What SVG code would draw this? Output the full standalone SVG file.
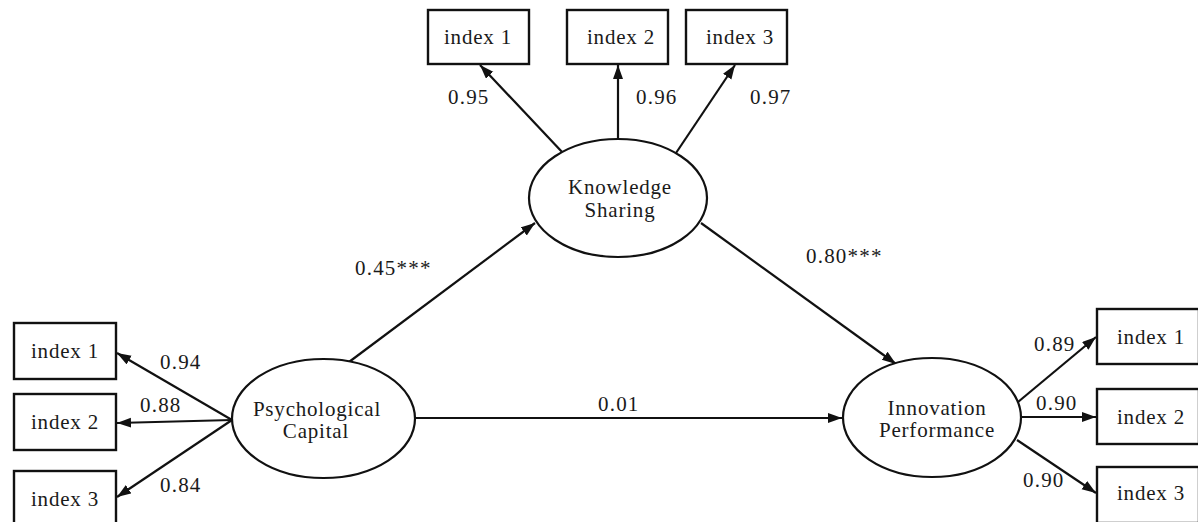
<svg xmlns="http://www.w3.org/2000/svg" width="1198" height="522" viewBox="0 0 1198 522">
<style>
.box{fill:#fff;stroke:#111;stroke-width:2.4}
.ell{fill:#fff;stroke:#111;stroke-width:2.2}
.t{font-family:"Liberation Serif","Times New Roman",serif;font-size:21px;letter-spacing:0.8px;fill:#1a1a1a;text-anchor:middle}
.n{font-family:"Liberation Serif","Times New Roman",serif;font-size:21px;letter-spacing:1.2px;fill:#1a1a1a}
.c{stroke:#111;stroke-width:2.2;fill:none;marker-end:url(#ah)}
</style>
<defs>
<marker id="ah" markerUnits="userSpaceOnUse" markerWidth="15" markerHeight="11" refX="14" refY="5" orient="auto">
<path d="M0,0 L14,5 L0,10 z" fill="#111"/>
</marker>
</defs>
<rect width="1198" height="522" fill="#fff"/>
<g id="connectors">
<line class="c" x1="232" y1="420" x2="117" y2="353"/>
<line class="c" x1="232" y1="420" x2="117" y2="423"/>
<line class="c" x1="232" y1="420" x2="117" y2="497"/>
<line class="c" x1="563" y1="153" x2="480" y2="65"/>
<line class="c" x1="618" y1="139" x2="618" y2="65"/>
<line class="c" x1="676" y1="153" x2="735" y2="65"/>
<line class="c" x1="349" y1="362" x2="535" y2="223"/>
<line class="c" x1="701" y1="223" x2="896" y2="364"/>
<line class="c" x1="415" y1="418" x2="842" y2="418"/>
<line class="c" x1="1018" y1="402" x2="1096" y2="337"/>
<line class="c" x1="1021" y1="417" x2="1096" y2="417"/>
<line class="c" x1="1017" y1="440" x2="1096" y2="493"/>
<text class="n" x="160" y="369">0.94</text>
<text class="n" x="140" y="412">0.88</text>
<text class="n" x="160" y="492">0.84</text>
<text class="n" x="448" y="104">0.95</text>
<text class="n" x="636" y="104">0.96</text>
<text class="n" x="750" y="104">0.97</text>
<text class="n" x="355" y="275">0.45***</text>
<text class="n" x="806" y="263">0.80***</text>
<text class="n" x="598" y="411">0.01</text>
<text class="n" x="1034" y="351">0.89</text>
<text class="n" x="1036" y="410">0.90</text>
<text class="n" x="1023" y="487">0.90</text>
</g>
<g id="ls1"><rect class="box" x="14" y="323" width="102" height="56"/><text class="t" x="65" y="358">index 1</text></g>
<g id="ls2"><rect class="box" x="14" y="394" width="102" height="56"/><text class="t" x="65" y="429">index 2</text></g>
<g id="ls3"><rect class="box" x="14" y="471" width="102" height="56"/><text class="t" x="65" y="506">index 3</text></g>
<g id="ks1"><rect class="box" x="428" y="10" width="101" height="54"/><text class="t" x="478" y="44">index 1</text></g>
<g id="ks2"><rect class="box" x="567" y="10" width="101" height="54"/><text class="t" x="621" y="44">index 2</text></g>
<g id="ks3"><rect class="box" x="686" y="10" width="101" height="54"/><text class="t" x="740" y="44">index 3</text></g>
<g id="ip1"><rect class="box" x="1097" y="309" width="102" height="55"/><text class="t" x="1151" y="344">index 1</text></g>
<g id="ip2"><rect class="box" x="1097" y="389" width="102" height="55"/><text class="t" x="1151" y="424">index 2</text></g>
<g id="ip3"><rect class="box" x="1097" y="467" width="102" height="56"/><text class="t" x="1151" y="500">index 3</text></g>
<g id="psych"><ellipse class="ell" cx="323.5" cy="418.5" rx="91.5" ry="59.5"/><text class="t" x="317" y="416">Psychological</text><text class="t" x="316" y="438">Capital</text></g>
<g id="ks"><ellipse class="ell" cx="618" cy="198" rx="89" ry="59"/><text class="t" x="620" y="194">Knowledge</text><text class="t" x="620" y="217">Sharing</text></g>
<g id="ip"><ellipse class="ell" cx="932" cy="417.5" rx="89" ry="59.5"/><text class="t" x="937" y="415">Innovation</text><text class="t" x="937" y="437">Performance</text></g>
</svg>
